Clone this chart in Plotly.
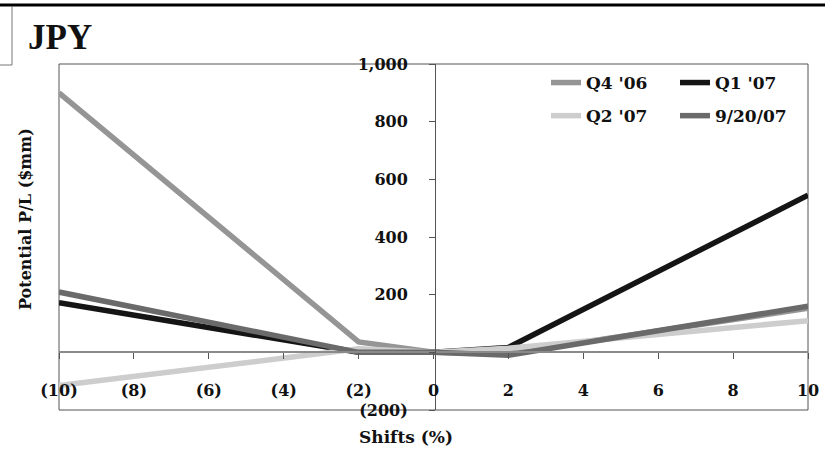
import plotly.graph_objects as go

# ---- data ----
shifts = [-10, -2, 0, 2, 10]
q4_06 = [900, 36, 0, -4, 153]
q1_07 = [172, 0, 0, 17, 545]
q2_07 = [-115, 12, 0, 14, 110]
d_9_20_07 = [209, 0, 0, -10, 160]

series_names = ["Q4 '06", "Q1 '07", "Q2 '07", "9/20/07"]
x_tickvals = [-10, -8, -6, -4, -2, 0, 2, 4, 6, 8, 10]
x_ticktext = ["(10)", "(8)", "(6)", "(4)", "(2)", "0", "2", "4", "6", "8", "10"]
y_tickvals = [-200, 0, 200, 400, 600, 800, 1000]
y_ticktext = ["(200)", "", "200", "400", "600", "800", "1,000"]

FONT = "DejaVu Serif"
W, H = 825, 461
L, R, T, B = 59, 17, 64, 51
PW, PH = W - L - R, H - T - B

def px(xp):
    return (xp - L) / PW

def py(yp):
    return (H - B - yp) / PH

fig = go.Figure()
styles = [
    (q4_06, "#959595", "legend"),
    (q1_07, "#151515", "legend2"),
    (q2_07, "#cdcdcd", "legend"),
    (d_9_20_07, "#6a6a6a", "legend2"),
]
for name, (vals, col, leg) in zip(series_names, styles):
    fig.add_trace(go.Scatter(
        x=shifts, y=vals, mode="lines", name=name,
        line=dict(color=col, width=5.5),
        legend=leg, legendgroup=name,
        cliponaxis=False,
    ))

fig.update_layout(
    width=W, height=H,
    margin=dict(l=L, r=R, t=T, b=B, autoexpand=False),
    paper_bgcolor="white", plot_bgcolor="white",
    font=dict(family=FONT, color="#111111"),
    title=dict(text="<b>JPY</b>", x=28 / W, xanchor="left", xref="container",
               y=1 - 37 / H, yanchor="middle", yref="container",
               font=dict(family="Liberation Serif", size=35, color="#111111")),
    xaxis=dict(
        range=[-10, 10], tickvals=x_tickvals, ticktext=x_ticktext,
        anchor="free", position=py(352), showgrid=False, zeroline=False,
        showline=True, linecolor="#8a8a8a", linewidth=2,
        ticks="outside", ticklen=6, tickcolor="#555555",
        ticklabelstandoff=18, automargin=False,
        tickfont=dict(family=FONT, size=16, color="#111111", weight="bold"),
    ),
    yaxis=dict(
        range=[-200, 1000], tickvals=y_tickvals, ticktext=y_ticktext,
        anchor="free", position=px(435), showgrid=False, zeroline=False,
        showline=True, linecolor="#555555", linewidth=1,
        ticks="outside", ticklen=6, tickcolor="#555555",
        ticklabelstandoff=18, automargin=False,
        tickfont=dict(family=FONT, size=16, color="#111111", weight="bold"),
    ),
    legend=dict(x=px(546), y=py(65), xanchor="left", yanchor="top",
                bgcolor="rgba(0,0,0,0)", tracegroupgap=8,
                font=dict(family=FONT, size=17, color="#111111", weight="bold")),
    legend2=dict(x=px(675), y=py(65), xanchor="left", yanchor="top",
                 bgcolor="rgba(0,0,0,0)", tracegroupgap=8,
                 font=dict(family=FONT, size=17, color="#111111", weight="bold")),
    showlegend=True,
)

# frame around the plot area
fig.add_shape(type="rect", xref="x domain", yref="y domain", x0=0, x1=1, y0=0, y1=1,
              line=dict(color="#555555", width=1), layer="below")
# slide decorations
fig.add_shape(type="line", xref="paper", yref="paper", x0=px(0), x1=px(W), y0=py(5), y1=py(5),
              line=dict(color="#000000", width=3))
fig.add_shape(type="line", xref="paper", yref="paper", x0=px(12), x1=px(12), y0=py(6), y1=py(65),
              line=dict(color="#777777", width=1))
fig.add_shape(type="line", xref="paper", yref="paper", x0=px(0), x1=px(12), y0=py(65), y1=py(65),
              line=dict(color="#777777", width=1))

fig.add_annotation(text="<b>Potential P/L ($mm)</b>", xref="paper", yref="paper",
                   x=px(25), y=py(219), xanchor="center", yanchor="middle",
                   textangle=-90, showarrow=False,
                   font=dict(family=FONT, size=16, color="#111111"))
fig.add_annotation(text="<b>Shifts (%)</b>", xref="paper", yref="paper",
                   x=px(406), y=py(437), xanchor="center", yanchor="middle",
                   showarrow=False,
                   font=dict(family=FONT, size=17, color="#111111"))

fig.write_html("out.html")
